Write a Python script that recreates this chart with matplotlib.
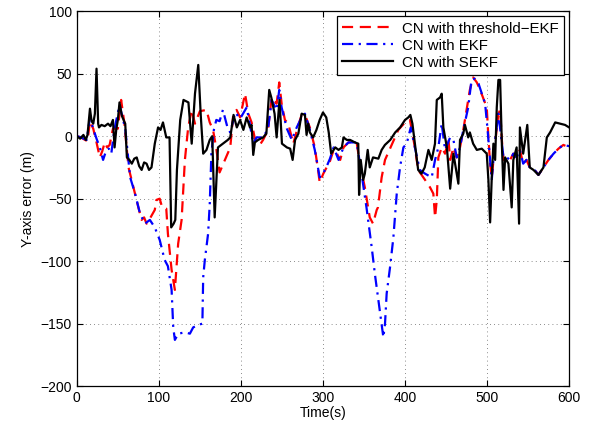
import numpy as np
import matplotlib
matplotlib.use('Agg')
import matplotlib.pyplot as plt

plt.rcParams['font.family'] = ['Liberation Sans', 'DejaVu Sans']

# CN with SEKF (black solid)
t_sekf = [0, 4, 8, 11, 13, 16, 18, 20, 22, 24, 26, 27, 30, 34, 38, 41, 44, 46, 48, 50, 52, 55, 59, 61, 64, 67,
          70, 73, 76, 79, 82, 85, 88, 91, 95, 99, 102, 105, 109, 113, 115, 118, 120, 122, 126, 130, 136, 140,
          144, 148, 151, 154, 158, 162, 165, 168, 172, 178, 184, 187, 191, 195, 199, 203, 207, 211, 213, 215,
          217, 221, 227, 231, 234.5, 237, 241, 243.5, 247, 250, 256, 260, 263, 266, 270, 274, 278, 280, 282,
          284, 288, 292, 296, 300, 304, 307, 310, 315, 319, 323, 325, 329, 333, 339, 343, 344, 346, 349, 351,
          354.5, 357, 361, 367.5, 371.5, 375.5, 382, 388, 394, 400, 404, 406.5, 409, 412, 416, 420, 424, 428.5,
          432.5, 436.5, 438.7, 442.7, 444.7, 446.7, 451, 455, 459, 463, 465, 467, 471, 473, 477, 479, 483,
          487.5, 493.5, 499.6, 501.6, 503.7, 505.7, 507.7, 509.8, 511.8, 513.8, 515.9, 518, 520, 522, 526, 530,
          532, 536, 539, 540, 544, 549, 552, 556.5, 562.6, 568.7, 572.8, 576.8, 583, 589, 595, 600]
y_sekf = [0, -2, 1, -3, 1, 22, 12, 10, 18, 54, 10, 7, 9, 8, 10, 8, 13, -9, 5, 13, 27, 16, 10, -17, -19, -22,
          -18, -17, -24, -27, -21, -22, -27, -25, -6, 7, 5, 11, -1, -1, -73, -70, -67, -27, 13, 29, 27, -6,
          34, 57, 17, -14, -11, -3, 0, -65, -9, -6, -3, -1, 17, 7, 13, 5, 15, 7, 9, -15,
          -5, -3, -1, 2, 37, 31, 18, -1, 29, -6, -9, -10, -19, -3, 2, 18, 17, 1, 10,
          3, -1, 5, 13, 19, 15, 3, -14, -9, -11, -9, -1, -3, -3, -5, -6, -47, -19, -35, -30,
          -11, -25, -17, -18, -11, -7, -3, 3, 7, 13, 15, 17, 10, -6, -27, -30, -25, -11,
          -19, -6, 29, 31, 34, 7, -9, -42, -14, -30, -38, -3, 2, 9, -1, 3, -6,
          -11, -10, -14, -35, -69, -33, -6, -19, 23, 45, 45, -6, -43, -17, -22, -57,
          -19, -9, -70, 7, -14, 9, -25, -27, -31, -25, -1, 3, 11, 10, 9, 7]

# CN with threshold-EKF (red dashed)
t_thr = [0, 5, 10, 13, 16, 20, 24, 28, 31, 34, 37, 40, 44, 50, 54, 58, 63, 69, 75, 79, 82, 85, 89, 95, 97,
         101, 104, 109, 111, 115.5, 119.5, 123.5, 127.7, 131.7, 135.7, 140, 144, 150, 158, 162, 166, 170, 174,
         180.5, 187, 190.6, 194.7, 199, 205, 209, 213, 217, 223, 227, 233, 237.5, 243.5, 246.7, 249.6, 253.6,
         257.7, 263.8, 270, 274, 278, 284, 290, 294, 296, 300.4, 304.5, 308.5, 313, 317, 321, 325, 331, 341,
         345, 351, 357, 361, 365.5, 367, 371.5, 375.6, 381.7, 387.8, 391.8, 400, 406, 412, 416, 424.4, 430.5,
         434.5, 436.6, 438.7, 440.6, 444.7, 448.8, 453, 455, 459, 463, 467, 471, 475, 479, 483, 487.5, 491.5,
         495.5, 499.6, 501.6, 503.7, 505.7, 509.8, 513.8, 515.9, 518, 520, 524, 528, 532, 536, 540, 544, 548,
         552, 558, 562.6, 568.7, 574.8, 581, 587, 593, 600]
y_thr = [0, -1, -3, -4, 12, 6, -5, -17, -12, -5, -9, -7, 6, 6, 29, 10, -25, -41, -57, -67, -65, -70, -66, -59, -51,
         -50, -57, -58, -78, -107, -123, -86, -67, -19, 7, 21, 10, 20, 21, 11, 5, -10, -29,
         -19, -9, 17, 21, 15, 34, 18, 11, -2, -7, -3, 5, 31, 26, 43, 26, 13,
         10, -6, 9, 17, 17, 7, -9, -27, -37, -30, -25, -20, -11, -14, -19, -9, -5, -5,
         -22, -41, -65, -70, -59, -57, -33, -19, -10, -1, 5, 11, 13, -9, -27, -35, -41,
         -46, -65, -51, -17, -9, -14, -3, -19, -9, -17, -9, 5, 21, 37, 47, 43, 37,
         30, 23, -1, -22, -33, -6, 18, 21, -3, -19, -17, -19, -14, -17, -11, -22, -19,
         -25, -27, -31, -25, -19, -14, -10, -7, -9]

# CN with EKF (blue dash-dot)
t_ekf = [0, 5, 12, 16, 20, 24, 28, 32, 36, 39, 42, 46, 52, 59, 65, 71, 77, 83, 89, 95, 101, 107, 111, 115.5,
         117.5, 119.5, 123.6, 131.7, 137.8, 141.8, 148, 153, 154, 156, 160, 162, 164, 167, 170, 174, 178, 184,
         187, 193, 199, 207, 211, 215, 219, 227, 233, 237.5, 243.5, 246.7, 249.6, 256, 262, 268, 274, 278, 284,
         290, 296, 300, 304, 308.5, 313, 319, 325, 331, 341, 347, 353, 359.4, 363.4, 367.5, 371.5, 373.6, 375.6,
         377.6, 381.7, 385.8, 389.9, 393.9, 398, 402, 407, 412, 418, 424.4, 432.5, 436.6, 440.6, 444.7, 448.8,
         455, 459, 463, 467, 471, 477, 481, 485, 489.6, 493.6, 497.6, 500.5, 503.7, 505.7, 509.8, 513.8, 518,
         520, 524, 528, 532, 536, 540, 544, 548, 552, 558, 562.6, 568.7, 574.8, 581, 587, 593, 600]
y_ekf = [0, -1, -3, 15, 6, -2, -9, -19, -11, -10, -14, 6, 25, 6, -33, -46, -62, -70, -67, -73, -83, -99, -104, -123,
         -153, -163, -158, -157, -158, -153, -151, -150, -113, -99, -78, -54, -14, 5, 13, 12, 21, 6,
         3, 19, 14, 23, 9, -6, -1, -1, 6, 29, 21, 37, 23, 6, -3, 7, 15, 18, 5,
         -11, -33, -30, -25, -18, -9, -19, -9, -5, -5, -30, -57, -89, -111, -131, -150, -161, -150,
         -126, -105, -81, -46, -25, -9, -6, 7, -9, -27, -30, -33, -19, -9, 10, -11,
         -1, -3, -17, -9, 5, 23, 45, 46, 42, 34, 26, 6, -19, -35, -3, 18, -6,
         -17, -17, -19, -14, -17, -11, -22, -19, -25, -27, -31, -25, -19, -14, -10, -7, -8]

fig = plt.figure(figsize=(5.91, 4.30), dpi=100)
ax = fig.add_axes([0.130, 0.102, 0.833, 0.872])

ax.plot(t_thr, y_thr, color='red', linestyle=(0, (5, 3)), linewidth=1.6, label='CN with threshold\u2212EKF')
ax.plot(t_ekf, y_ekf, color='blue', linestyle=(0, (5, 2.5, 1, 2.5)), linewidth=1.6, label='CN with EKF')
ax.plot(t_sekf, y_sekf, color='black', linestyle='-', linewidth=1.6, label='CN with SEKF')

ax.set_xlim(0, 600)
ax.set_ylim(-200, 100)
ax.set_xticks(np.arange(0, 601, 100))
ax.set_yticks(np.arange(-200, 101, 50))
ax.grid(True, linestyle=(0, (1, 4)), color='#666666', linewidth=0.6)
ax.tick_params(direction='in', top=True, right=True, labelsize=10, length=4)
for s in ax.spines.values():
    s.set_linewidth(0.9)

ax.set_xlabel('Time(s)', fontsize=10, labelpad=1)
ax.set_ylabel('Y-axis error (m)', fontsize=10, labelpad=4)

leg = ax.legend(loc='upper right', fontsize=10.8, handlelength=3.4, handletextpad=0.6, fancybox=False,
                framealpha=1, edgecolor='black', borderaxespad=0.35, labelspacing=0.2, borderpad=0.35)
leg.get_frame().set_linewidth(0.9)

plt.savefig('out.png', dpi=100)
